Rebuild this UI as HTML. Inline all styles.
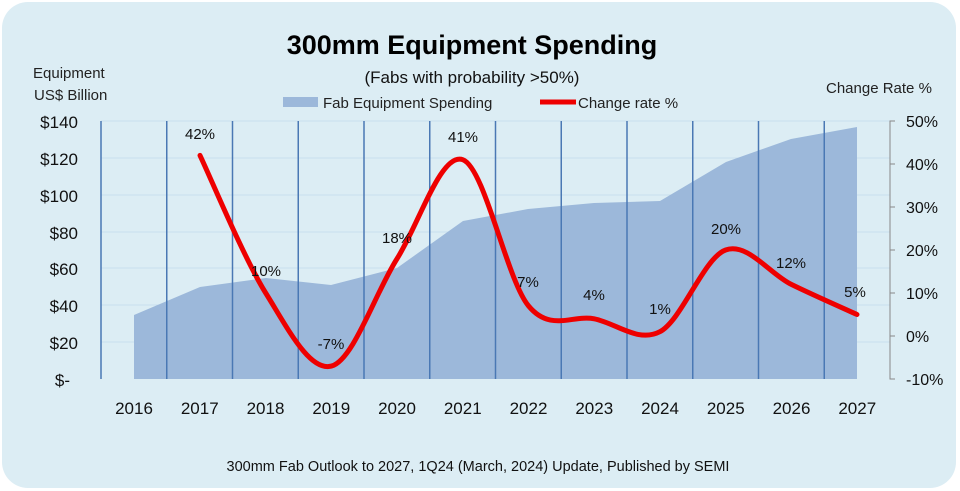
<!DOCTYPE html>
<html><head><meta charset="utf-8"><style>
html,body{margin:0;padding:0;background:#fff;width:960px;height:491px;overflow:hidden}
svg{display:block;font-family:"Liberation Sans",sans-serif}
</style></head><body>
<svg id="s" width="960" height="491" viewBox="0 0 960 491">
<rect x="2" y="2" width="954" height="486" rx="26" fill="#dcedf4"/>
<g stroke="#c8dfee" stroke-width="1">
<line x1="101" y1="121" x2="890" y2="121"/><line x1="101" y1="158" x2="890" y2="158"/>
<line x1="101" y1="195" x2="890" y2="195"/><line x1="101" y1="232" x2="890" y2="232"/>
<line x1="101" y1="268" x2="890" y2="268"/><line x1="101" y1="305" x2="890" y2="305"/>
<line x1="101" y1="342" x2="890" y2="342"/>
</g>
<path d="M134,379 L134,315 L200,287 L266,278 L331,285 L397,268 L463,221 L528,209 L594,203 L660,201 L726,162 L791,139 L857,127 L857,379 Z" fill="#9cb8da"/>
<g id="vg" stroke="#4a78b4" stroke-width="1.5"></g>
<g stroke="#888" stroke-width="1" fill="none"><path d="M893,121 H890 V379 H893"/></g>
<g id="rt" stroke="#888" stroke-width="1"></g>
<path id="ln" fill="none" stroke="#ee0000" stroke-width="5" stroke-linecap="round" stroke-linejoin="round"/>
<text x="472" y="54" text-anchor="middle" font-size="27" font-weight="bold" fill="#000">300mm Equipment Spending</text>
<text x="472" y="83" text-anchor="middle" font-size="17" fill="#111">(Fabs with probability &gt;50%)</text>
<rect x="283" y="97" width="35" height="10" fill="#9cb8da"/>
<text x="323" y="108" font-size="15" fill="#222">Fab Equipment Spending</text>
<line x1="540" y1="102" x2="576" y2="102" stroke="#ee0000" stroke-width="5"/>
<text x="578" y="108" font-size="15" fill="#222">Change rate %</text>
<text x="33" y="78" font-size="15" fill="#222">Equipment</text>
<text x="34" y="100" font-size="15" fill="#222">US$ Billion</text>
<text x="826" y="93" font-size="15" fill="#222">Change Rate %</text>
<g font-size="17" fill="#111" text-anchor="end">
<text x="78" y="128">$140</text><text x="78" y="165">$120</text><text x="78" y="202">$100</text>
<text x="78" y="239">$80</text><text x="78" y="275">$60</text><text x="78" y="312">$40</text>
<text x="78" y="349">$20</text><text x="70" y="386">$-</text>
</g>
<g font-size="16" fill="#111">
<text x="906" y="127">50%</text><text x="906" y="170">40%</text><text x="906" y="213">30%</text>
<text x="906" y="256">20%</text><text x="906" y="299">10%</text><text x="906" y="342">0%</text>
<text x="906" y="385">-10%</text>
</g>
<g id="xl" font-size="17" fill="#111" text-anchor="middle"></g>
<g font-size="15" fill="#111" text-anchor="middle">
<text x="200" y="139">42%</text><text x="266" y="276">10%</text><text x="331" y="349">-7%</text>
<text x="397" y="243">18%</text><text x="463" y="142">41%</text><text x="528" y="287">7%</text>
<text x="594" y="300">4%</text><text x="660" y="314">1%</text><text x="726" y="234">20%</text>
<text x="791" y="268">12%</text><text x="855" y="297">5%</text>
</g>
<text x="478" y="471" text-anchor="middle" font-size="14.5" fill="#111">300mm Fab Outlook to 2027, 1Q24 (March, 2024) Update, Published by SEMI</text>
</svg>
<script>
var NS="http://www.w3.org/2000/svg";
function el(p,t,a){var e=document.createElementNS(NS,t);for(var k in a)e.setAttribute(k,a[k]);p.appendChild(e);return e;}
var vg=document.getElementById("vg");
for(var i=0;i<13;i++){var x=101+i*65.75;if(x>880)break;el(vg,"line",{x1:x,y1:121,x2:x,y2:379});}
var rt=document.getElementById("rt");
for(var i=0;i<7;i++){var y=121+i*43;el(rt,"line",{x1:890,y1:y,x2:895,y2:y});}
var xl=document.getElementById("xl");
for(var i=0;i<12;i++){var t=el(xl,"text",{x:134+i*65.75,y:414});t.textContent=2016+i;}
var v=[42,10,-7,18,41,7,4,1,20,12,5];
var pts=v.map(function(d,i){return [200+i*65.7,379-(d+10)*4.3];});
var d="M"+pts[0][0]+","+pts[0][1];
for(var i=0;i<pts.length-1;i++){
 var p0=pts[i-1]||pts[i],p1=pts[i],p2=pts[i+1],p3=pts[i+2]||p2;
 var c1=[p1[0]+(p2[0]-p0[0])/6,p1[1]+(p2[1]-p0[1])/6];
 var c2=[p2[0]-(p3[0]-p1[0])/6,p2[1]-(p3[1]-p1[1])/6];
 d+=" C"+c1+" "+c2+" "+p2;
}
document.getElementById("ln").setAttribute("d",d);
</script>
</body></html>
